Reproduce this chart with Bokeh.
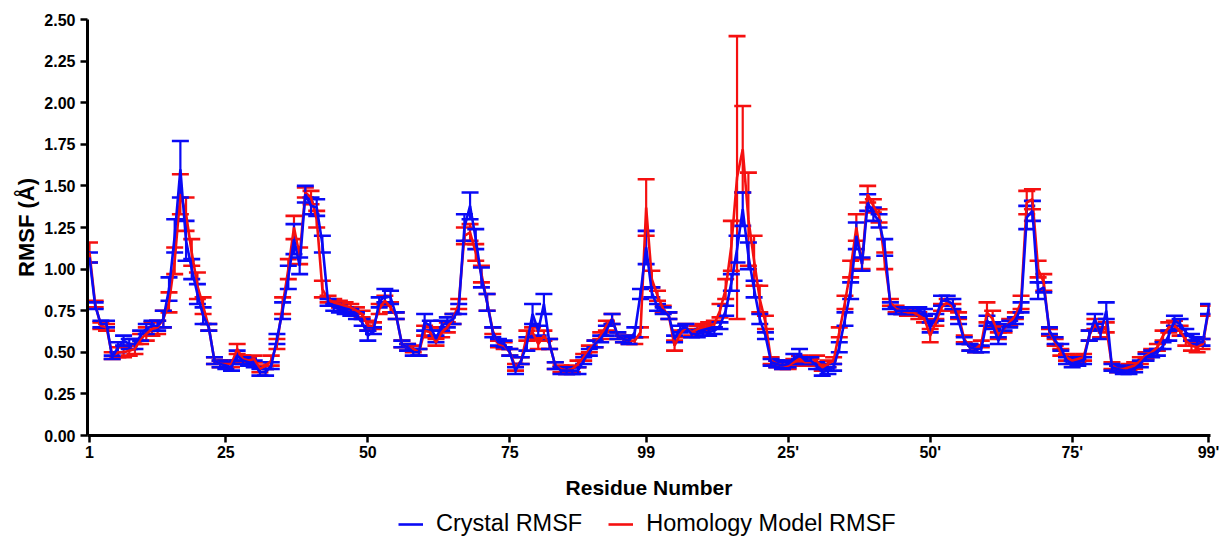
from bokeh.plotting import figure
from bokeh.layouts import column
from bokeh.models import ColumnDataSource, Whisker, TeeHead, Legend, LegendItem, Range1d, FixedTicker, NumeralTickFormatter
from bokeh.embed import file_html
from bokeh.resources import INLINE

# Residue positions: chain A 1..99, chain B 1'..99' (plotted as 100..198)
tick_positions = [1, 25, 50, 75, 99, 124, 149, 174, 198]
tick_labels = ["1", "25", "50", "75", "99", "25'", "50'", "75'", "99'"]

crystal_A = [1.07, 0.78, 0.67, 0.67, 0.47, 0.53, 0.57, 0.55, 0.55, 0.60,
             0.64, 0.66, 0.66, 0.70, 0.88, 1.20, 1.60, 1.17, 1.00, 0.85,
             0.72, 0.65, 0.45, 0.43, 0.42, 0.41, 0.48, 0.45, 0.44, 0.43,
             0.38, 0.38, 0.42, 0.58, 0.75, 0.95, 1.18, 1.02, 1.45, 1.38,
             1.37, 1.15, 0.80, 0.77, 0.76, 0.75, 0.74, 0.72, 0.68, 0.60,
             0.63, 0.80, 0.84, 0.83, 0.72, 0.55, 0.53, 0.50, 0.50, 0.68,
             0.66, 0.58, 0.66, 0.68, 0.70, 0.76, 1.25, 1.38, 1.18, 0.95,
             0.80, 0.62, 0.56, 0.55, 0.50, 0.39, 0.45, 0.55, 0.73, 0.63,
             0.79, 0.55, 0.42, 0.39, 0.39, 0.39, 0.39, 0.45, 0.50, 0.55,
             0.58, 0.63, 0.70, 0.60, 0.58, 0.57, 0.62, 0.85, 1.13]
crystal_A_err = [0.03, 0.02, 0.02, 0.02, 0.01, 0.03, 0.03, 0.03, 0.03, 0.03,
                 0.03, 0.03, 0.03, 0.05, 0.07, 0.10, 0.17, 0.12, 0.06, 0.06,
                 0.05, 0.02, 0.02, 0.02, 0.02, 0.02, 0.03, 0.02, 0.02, 0.02,
                 0.02, 0.02, 0.02, 0.03, 0.05, 0.07, 0.09, 0.05, 0.05, 0.05,
                 0.05, 0.05, 0.02, 0.02, 0.02, 0.02, 0.02, 0.02, 0.02, 0.03,
                 0.02, 0.03, 0.04, 0.04, 0.02, 0.02, 0.02, 0.02, 0.02, 0.05,
                 0.03, 0.02, 0.03, 0.03, 0.03, 0.03, 0.08, 0.08, 0.06, 0.06,
                 0.05, 0.03, 0.02, 0.02, 0.02, 0.02, 0.02, 0.04, 0.06, 0.03,
                 0.06, 0.03, 0.02, 0.02, 0.02, 0.02, 0.02, 0.02, 0.02, 0.02,
                 0.02, 0.03, 0.03, 0.02, 0.02, 0.02, 0.03, 0.03, 0.10]

crystal_B = [0.86, 0.77, 0.75, 0.72, 0.58, 0.64, 0.65, 0.61, 0.61, 0.62,
             0.62, 0.63, 0.66, 0.75, 0.92, 1.12, 1.36, 1.08, 0.88, 0.70,
             0.60, 0.44, 0.43, 0.42, 0.43, 0.46, 0.49, 0.45, 0.45, 0.42,
             0.38, 0.39, 0.41, 0.53, 0.70, 0.87, 1.20, 1.03, 1.40, 1.33,
             1.29, 1.13, 0.78, 0.75, 0.75, 0.75, 0.75, 0.75, 0.74, 0.65,
             0.71, 0.81, 0.81, 0.79, 0.69, 0.57, 0.53, 0.52, 0.52, 0.69,
             0.66, 0.57, 0.65, 0.67, 0.69, 0.77, 1.31, 1.35, 0.87, 0.89,
             0.63, 0.57, 0.53, 0.45, 0.43, 0.44, 0.45, 0.60, 0.70, 0.61,
             0.75, 0.41, 0.40, 0.39, 0.39, 0.40, 0.43, 0.47, 0.49, 0.50,
             0.54, 0.60, 0.69, 0.67, 0.62, 0.59, 0.57, 0.56, 0.76]
crystal_B_err = [0.03, 0.02, 0.02, 0.02, 0.02, 0.02, 0.02, 0.02, 0.02, 0.02,
                 0.02, 0.02, 0.02, 0.03, 0.05, 0.08, 0.10, 0.08, 0.05, 0.03,
                 0.02, 0.02, 0.02, 0.02, 0.02, 0.03, 0.03, 0.02, 0.02, 0.02,
                 0.02, 0.02, 0.02, 0.03, 0.04, 0.05, 0.08, 0.04, 0.05, 0.04,
                 0.04, 0.05, 0.02, 0.02, 0.02, 0.02, 0.02, 0.02, 0.02, 0.03,
                 0.02, 0.03, 0.03, 0.03, 0.02, 0.02, 0.02, 0.02, 0.02, 0.03,
                 0.02, 0.02, 0.02, 0.02, 0.02, 0.03, 0.07, 0.06, 0.05, 0.03,
                 0.02, 0.02, 0.02, 0.02, 0.02, 0.02, 0.02, 0.03, 0.03, 0.03,
                 0.05, 0.02, 0.02, 0.02, 0.02, 0.02, 0.02, 0.02, 0.02, 0.02,
                 0.02, 0.03, 0.03, 0.03, 0.02, 0.02, 0.02, 0.02, 0.03]

model_A = [1.10, 0.79, 0.66, 0.65, 0.48, 0.50, 0.50, 0.51, 0.52, 0.58,
           0.61, 0.64, 0.65, 0.70, 0.80, 1.05, 1.45, 1.33, 1.10, 0.90,
           0.78, 0.65, 0.45, 0.43, 0.43, 0.43, 0.52, 0.46, 0.45, 0.46,
           0.40, 0.42, 0.45, 0.55, 0.78, 1.00, 1.25, 1.08, 1.46, 1.43,
           1.30, 0.88, 0.82, 0.80, 0.79, 0.78, 0.77, 0.75, 0.73, 0.66,
           0.66, 0.76, 0.81, 0.77, 0.72, 0.55, 0.53, 0.52, 0.50, 0.63,
           0.62, 0.56, 0.62, 0.65, 0.70, 0.79, 1.20, 1.22, 1.10, 0.97,
           0.80, 0.63, 0.55, 0.54, 0.50, 0.41, 0.45, 0.60, 0.62, 0.55,
           0.60, 0.55, 0.42, 0.40, 0.39, 0.40, 0.43, 0.47, 0.52, 0.55,
           0.60, 0.66, 0.70, 0.60, 0.58, 0.57, 0.57, 0.62, 1.37]
model_A_err = [0.06, 0.02, 0.02, 0.02, 0.02, 0.03, 0.03, 0.03, 0.03, 0.03,
               0.04, 0.04, 0.04, 0.05, 0.06, 0.08, 0.12, 0.10, 0.08, 0.08,
               0.05, 0.02, 0.02, 0.02, 0.02, 0.02, 0.03, 0.02, 0.02, 0.02,
               0.02, 0.02, 0.03, 0.03, 0.05, 0.06, 0.07, 0.05, 0.03, 0.04,
               0.05, 0.05, 0.02, 0.02, 0.02, 0.02, 0.02, 0.02, 0.02, 0.03,
               0.02, 0.03, 0.03, 0.03, 0.02, 0.02, 0.02, 0.02, 0.02, 0.03,
               0.03, 0.02, 0.03, 0.03, 0.03, 0.03, 0.05, 0.05, 0.05, 0.05,
               0.05, 0.02, 0.02, 0.02, 0.02, 0.02, 0.02, 0.03, 0.03, 0.03,
               0.03, 0.03, 0.02, 0.02, 0.02, 0.02, 0.02, 0.02, 0.02, 0.02,
               0.02, 0.03, 0.03, 0.02, 0.02, 0.02, 0.02, 0.03, 0.17]

model_B = [0.94, 0.84, 0.76, 0.72, 0.54, 0.61, 0.65, 0.62, 0.64, 0.65,
           0.66, 0.67, 0.75, 0.88, 1.14, 1.55, 1.72, 1.30, 1.05, 0.82,
           0.68, 0.45, 0.43, 0.42, 0.42, 0.44, 0.46, 0.44, 0.44, 0.45,
           0.41, 0.43, 0.45, 0.62, 0.80, 1.00, 1.25, 1.03, 1.45, 1.38,
           1.32, 1.05, 0.80, 0.76, 0.75, 0.74, 0.74, 0.72, 0.70, 0.60,
           0.68, 0.77, 0.80, 0.77, 0.72, 0.58, 0.53, 0.52, 0.55, 0.74,
           0.70, 0.60, 0.64, 0.68, 0.72, 0.80, 1.40, 1.42, 1.00, 0.92,
           0.62, 0.56, 0.50, 0.47, 0.45, 0.46, 0.47, 0.60, 0.67, 0.62,
           0.65, 0.42, 0.40, 0.40, 0.41, 0.42, 0.45, 0.48, 0.50, 0.53,
           0.60, 0.65, 0.66, 0.63, 0.57, 0.54, 0.53, 0.55, 0.75]
model_B_err = [0.05, 0.03, 0.02, 0.02, 0.03, 0.02, 0.02, 0.02, 0.02, 0.02,
               0.02, 0.02, 0.04, 0.06, 0.15, 0.85, 0.26, 0.28, 0.15, 0.08,
               0.04, 0.02, 0.02, 0.02, 0.02, 0.02, 0.02, 0.02, 0.02, 0.03,
               0.02, 0.02, 0.02, 0.03, 0.04, 0.05, 0.08, 0.03, 0.05, 0.04,
               0.04, 0.05, 0.02, 0.02, 0.02, 0.02, 0.02, 0.02, 0.02, 0.04,
               0.02, 0.02, 0.02, 0.02, 0.02, 0.02, 0.02, 0.02, 0.02, 0.06,
               0.05, 0.02, 0.02, 0.02, 0.02, 0.04, 0.07, 0.06, 0.05, 0.05,
               0.02, 0.02, 0.02, 0.02, 0.02, 0.02, 0.02, 0.03, 0.03, 0.03,
               0.03, 0.02, 0.02, 0.02, 0.02, 0.02, 0.02, 0.02, 0.02, 0.02,
               0.03, 0.03, 0.03, 0.03, 0.03, 0.03, 0.03, 0.03, 0.03]

BLUE = "#0A0AF5"
RED = "#F51010"
FONT = "Liberation Sans"

residue = list(range(1, len(crystal_A) + len(crystal_B) + 1))
crystal = crystal_A + crystal_B
crystal_err = crystal_A_err + crystal_B_err
model = model_A + model_B
model_err = model_A_err + model_B_err

def make_source(vals, errs):
    return ColumnDataSource(dict(
        x=residue, y=vals,
        lo=[v - e for v, e in zip(vals, errs)],
        hi=[v + e for v, e in zip(vals, errs)],
    ))

src_c = make_source(crystal, crystal_err)
src_m = make_source(model, model_err)

p = figure(width=1219, height=510, output_backend="svg",
           toolbar_location=None, x_range=Range1d(0.65, 198.35),
           y_range=Range1d(0, 2.5), min_border_left=87, min_border_top=19,
           min_border_right=9, min_border_bottom=75)
p.outline_line_color = None
p.xgrid.visible = False
p.ygrid.visible = False
p.background_fill_color = "white"
p.border_fill_color = "white"

for src, col in ((src_m, RED), (src_c, BLUE)):
    w = Whisker(source=src, base="x", lower="lo", upper="hi",
                line_color=col, line_width=2.2,
                upper_head=TeeHead(size=17, line_color=col, line_width=2.6),
                lower_head=TeeHead(size=17, line_color=col, line_width=2.6))
    p.add_layout(w)

r_m = p.line("x", "y", source=src_m, line_color=RED, line_width=2.6)
r_c = p.line("x", "y", source=src_c, line_color=BLUE, line_width=2.6)

# axes
for ax in (p.xaxis[0], p.yaxis[0]):
    ax.axis_line_width = 3
    ax.axis_line_color = "black"
    ax.major_tick_line_width = 2.5
    ax.major_tick_line_color = "black"
    ax.major_tick_out = 7
    ax.major_tick_in = 0
    ax.minor_tick_line_color = None
    ax.major_label_text_font = FONT
    ax.major_label_text_font_style = "bold"
    ax.major_label_text_font_size = "16px"
    ax.major_label_text_color = "black"
    ax.axis_label_text_font = FONT
    ax.axis_label_text_font_style = "bold"
    ax.axis_label_text_font_size = "21px"
    ax.axis_label_text_color = "black"

p.xaxis.ticker = FixedTicker(ticks=tick_positions)
p.xaxis.major_label_overrides = {t: l for t, l in zip(tick_positions, tick_labels)}
p.xaxis.axis_label = "Residue Number"
p.xaxis.major_label_standoff = 1
p.xaxis.axis_label_standoff = 12

p.yaxis.ticker = FixedTicker(ticks=[0, 0.25, 0.5, 0.75, 1.0, 1.25, 1.5, 1.75, 2.0, 2.25, 2.5])
p.yaxis.formatter = NumeralTickFormatter(format="0.00")
p.yaxis.axis_label = "RMSF (Å)"
p.yaxis.axis_label_text_font_size = "22px"
p.yaxis.major_label_standoff = 5
p.yaxis.axis_label_standoff = 2

# legend strip below the chart (same series, plotted out of this strip's view)
q = figure(width=1219, height=28, output_backend="svg", toolbar_location=None,
           x_axis_location=None, y_axis_location=None, min_border=0,
           x_range=Range1d(0.65, 198.35), y_range=Range1d(-20, -19))
q.outline_line_color = None
q.xgrid.visible = False
q.ygrid.visible = False
q_c = q.line(x=residue, y=crystal, line_color=BLUE, line_width=2.6)
q_m = q.line(x=residue, y=model, line_color=RED, line_width=2.6)

legend = Legend(items=[LegendItem(label="Crystal RMSF", renderers=[q_c]),
                       LegendItem(label="Homology Model RMSF", renderers=[q_m])],
                orientation="horizontal", location=(311, 1))
legend.label_text_font = FONT
legend.label_text_font_size = "23.5px"
legend.label_text_color = "black"
legend.label_height = 22
legend.glyph_height = 22
legend.glyph_width = 25
legend.label_standoff = 13
legend.spacing = 26
legend.border_line_color = None
legend.background_fill_alpha = 0
legend.margin = 0
legend.padding = 2
q.add_layout(legend)

open("out.html", "w").write(file_html(column(p, q, spacing=0), INLINE))
